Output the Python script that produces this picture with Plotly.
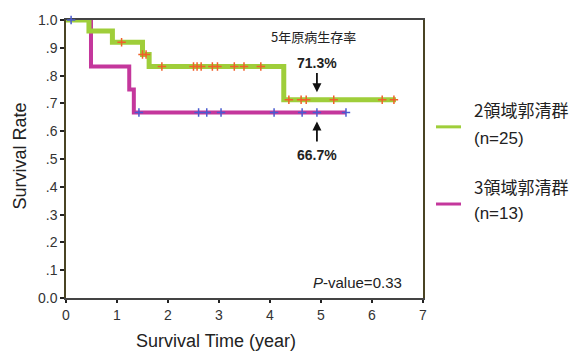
import plotly.graph_objects as go

# Kaplan-Meier step data
g2_times = [0, 0.45, 0.91, 1.50, 1.63, 4.27, 6.47]
g2_surv = [1.0, 0.96, 0.92, 0.876, 0.833, 0.713, 0.713]
g2_cens_t = [1.09, 1.50, 1.57, 1.88, 2.50, 2.57, 2.65, 2.87, 2.97, 3.30, 3.49, 3.82,
             4.37, 4.61, 4.71, 5.25, 6.20, 6.43]
g2_cens_s = [0.92, 0.876, 0.876, 0.833, 0.833, 0.833, 0.833, 0.833, 0.833, 0.833, 0.833, 0.833,
             0.713, 0.713, 0.713, 0.713, 0.713, 0.713]

g3_times = [0, 0.49, 1.24, 1.33, 5.49]
g3_surv = [1.0, 0.833, 0.75, 0.667, 0.667]
g3_cens_t = [0.10, 1.43, 2.60, 2.76, 3.04, 4.08, 4.63, 4.92, 5.49]
g3_cens_s = [1.0, 0.667, 0.667, 0.667, 0.667, 0.667, 0.667, 0.667, 0.667]

x_ticks = [0, 1, 2, 3, 4, 5, 6, 7]
y_ticks = [0.0, 0.1, 0.2, 0.3, 0.4, 0.5, 0.6, 0.7, 0.8, 0.9, 1.0]
y_ticktext = ["0.0", ".1", ".2", ".3", ".4", ".5", ".6", ".7", ".8", ".9", "1.0"]

GREEN = "#9FCE3A"
MAGENTA = "#C4379C"
ORANGE = "#F0602A"
BLUE = "#4A5BD0"
LAT = "Liberation Sans, Arial, sans-serif"
CJK = "Noto Sans CJK JP, sans-serif"

L, R, T, B = 66, 423, 17, 298  # plot area in pixels


def px(xp):
    return (xp - L) / (R - L)


def py(yp):
    return (B - yp) / (B - T)


fig = go.Figure()
fig.add_trace(go.Scatter(x=g3_times, y=g3_surv, mode="lines", line=dict(shape="hv", color=MAGENTA, width=4),
                         cliponaxis=False, showlegend=False))
fig.add_trace(go.Scatter(x=g2_times, y=g2_surv, mode="lines", line=dict(shape="hv", color=GREEN, width=5),
                         cliponaxis=False, showlegend=False))
fig.add_trace(go.Scatter(x=g2_cens_t, y=g2_cens_s, mode="markers",
                         marker=dict(symbol="cross-thin", size=6, line=dict(color=ORANGE, width=1.5)),
                         cliponaxis=False, showlegend=False))
fig.add_trace(go.Scatter(x=g3_cens_t, y=g3_cens_s, mode="markers",
                         marker=dict(symbol="cross-thin", size=6, line=dict(color=BLUE, width=1.5)),
                         cliponaxis=False, showlegend=False))

ann = []
ann.append(dict(x=4.85, y=0.940, xref="x", yref="y", text="5年原病生存率", showarrow=False,
                font=dict(family=CJK, size=13, color="#222")))
ann.append(dict(x=4.92, y=0.845, xref="x", yref="y", text="<b>71.3%</b>", showarrow=False,
                yanchor="middle", font=dict(family=LAT, size=14, color="#222")))
ann.append(dict(x=4.92, y=0.516, xref="x", yref="y", text="<b>66.7%</b>", showarrow=False,
                yanchor="middle", font=dict(family=LAT, size=14, color="#222")))
# arrows
ann.append(dict(x=4.92, y=0.74, ax=4.92, ay=0.815, xref="x", yref="y", axref="x", ayref="y", text="",
                showarrow=True, arrowhead=2, arrowsize=1, arrowwidth=1.8, arrowcolor="#111"))
ann.append(dict(x=4.92, y=0.635, ax=4.92, ay=0.558, xref="x", yref="y", axref="x", ayref="y", text="",
                showarrow=True, arrowhead=2, arrowsize=1, arrowwidth=1.8, arrowcolor="#111"))
ann.append(dict(x=5.72, y=0.057, xref="x", yref="y", text="<i>P</i>-value=0.33", showarrow=False,
                font=dict(family=LAT, size=15, color="#222")))
# legend
for txt, yy, fam in [("2領域郭清群", 107, CJK), ("(n=25)", 137, LAT), ("3領域郭清群", 185, CJK), ("(n=13)", 213, LAT)]:
    ann.append(dict(x=px(472), y=py(yy), xref="paper", yref="paper", text=txt, showarrow=False,
                    xanchor="left", yanchor="middle", font=dict(family=fam, size=17, color="#222")))
# axis titles
ann.append(dict(x=px(216), y=py(341), xref="paper", yref="paper", text="Survival Time (year)", showarrow=False,
                xanchor="center", yanchor="middle", font=dict(family=LAT, size=18, color="#222")))
ann.append(dict(x=px(20), y=py(155), xref="paper", yref="paper", text="Survival Rate", showarrow=False,
                xanchor="center", yanchor="middle", textangle=-90, font=dict(family=LAT, size=18, color="#222")))

shapes = [
    dict(type="line", xref="paper", yref="paper", x0=px(436), x1=px(461), y0=py(125), y1=py(125),
         line=dict(color=GREEN, width=3)),
    dict(type="line", xref="paper", yref="paper", x0=px(436), x1=px(461), y0=py(203), y1=py(203),
         line=dict(color=MAGENTA, width=3)),
]

fig.update_layout(
    width=580, height=351,
    margin=dict(l=L, r=580 - R, t=T, b=351 - B),
    paper_bgcolor="white", plot_bgcolor="white",
    annotations=ann, shapes=shapes,
    xaxis=dict(range=[0, 7], tickvals=x_ticks, ticks="outside", ticklen=3, tickwidth=2, tickcolor="#222",
               showline=True, linecolor="#444", linewidth=1.5, mirror=True, showgrid=False, zeroline=False,
               layer="below traces",
               ticklabelstandoff=0, tickfont=dict(family=LAT, size=14, color="#333")),
    yaxis=dict(range=[0, 1.0], tickvals=y_ticks, ticktext=y_ticktext, ticks="outside", ticklen=4, tickwidth=2,
               tickcolor="#222", showline=True, linecolor="#4a4424", linewidth=1.5, mirror=True, showgrid=False,
               zeroline=False, layer="below traces", tickfont=dict(family=LAT, size=14, color="#333")),
)

fig.write_html("out.html", config={"displayModeBar": False}, post_script="document.body.style.margin='0px';")
